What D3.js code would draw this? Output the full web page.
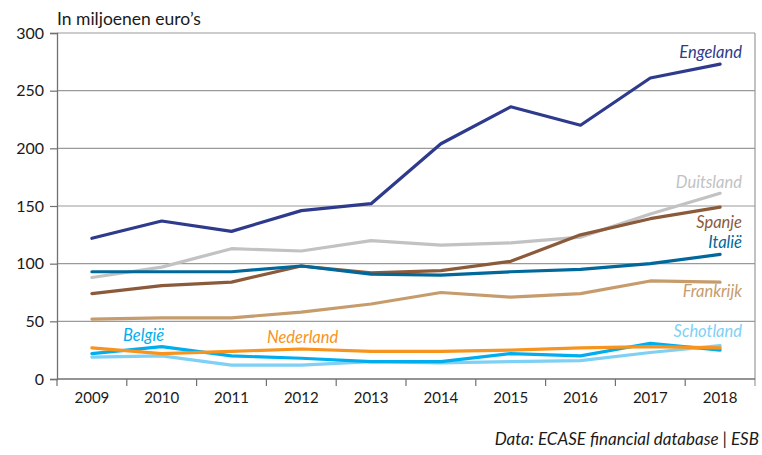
<!DOCTYPE html>
<html>
<head>
<meta charset="utf-8">
<script src="https://cdn.jsdelivr.net/npm/d3@7"></script>
<style>
  body { margin: 0; background: #fff; }
  svg { display: block; font-family: Lato, "Open Sans", sans-serif; }
</style>
</head>
<body>
<svg id="chart" width="762" height="455"></svg>
<script>
const years = ['2009', '2010', '2011', '2012', '2013', '2014', '2015', '2016', '2017', '2018'];
const yTicks = [0, 50, 100, 150, 200, 250, 300];

const engeland = [122, 137, 128, 146, 152, 204, 236, 220, 261, 273];
const duitsland = [88, 97, 113, 111, 120, 116, 118, 123, 143, 161];
const spanje = [74, 81, 84, 98, 92, 94, 102, 125, 139, 149];
const italie = [93, 93, 93, 98, 91, 90, 93, 95, 100, 108];
const frankrijk = [52, 53, 53, 58, 65, 75, 71, 74, 85, 84];
const belgie = [22, 28, 20, 18, 15, 15, 22, 20, 31, 25];
const nederland = [27, 22, 24, 26, 24, 24, 25, 27, 28, 27];
const schotland = [19, 20, 12, 12, 15, 14, 15, 16, 23, 29];

const series = [
  { name: 'Duitsland', values: duitsland, color: '#c2c2c2', lx: 742, ly: 188, anchor: 'end' },
  { name: 'Frankrijk', values: frankrijk, color: '#c69c6d', lx: 742, ly: 297, anchor: 'end' },
  { name: 'Spanje', values: spanje, color: '#8b5a3a', lx: 742, ly: 228, anchor: 'end' },
  { name: 'Italië', values: italie, color: '#00689a', lx: 742, ly: 248, anchor: 'end' },
  { name: 'Schotland', values: schotland, color: '#7fd0f5', lx: 742, ly: 337, anchor: 'end' },
  { name: 'België', values: belgie, color: '#00aeef', lx: 123, ly: 341, anchor: 'start' },
  { name: 'Nederland', values: nederland, color: '#f7941d', lx: 267, ly: 343, anchor: 'start' },
  { name: 'Engeland', values: engeland, color: '#2e3a8c', lx: 742, ly: 58, anchor: 'end' }
];

const svg = d3.select('#chart');
const plotLeft = 57, plotRight = 755, plotTop = 33, plotBottom = 379;

const x = d3.scaleBand().domain(years).range([plotLeft, plotRight]);
const y = d3.scaleLinear().domain([0, 300]).range([plotBottom, plotTop]);
const cx = d => x(d) + x.bandwidth() / 2;

// gridlines
svg.append('g')
  .selectAll('line')
  .data(yTicks.filter(t => t > 0))
  .join('line')
  .attr('x1', plotLeft).attr('x2', plotRight)
  .attr('y1', d => y(d)).attr('y2', d => y(d))
  .attr('stroke', '#9a9a9a').attr('stroke-width', 1.2);

// right border
svg.append('line')
  .attr('x1', plotRight).attr('x2', plotRight)
  .attr('y1', plotTop).attr('y2', plotBottom + 7)
  .attr('stroke', '#9a9a9a').attr('stroke-width', 1.2);

// y axis
const yAxis = svg.append('g')
  .attr('transform', `translate(${plotLeft},0)`)
  .call(d3.axisLeft(y).tickValues(yTicks).tickSize(7).tickPadding(6));
yAxis.select('.domain').attr('stroke', '#707070').attr('stroke-width', 1.3);
yAxis.selectAll('.tick line').attr('stroke', '#707070').attr('stroke-width', 1.2);
yAxis.selectAll('.tick text')
  .attr('fill', '#1a1a1a').style('font-size', '16px').style('font-family', 'Lato, sans-serif');

// x axis with ticks at band boundaries
const xAxis = svg.append('g')
  .attr('transform', `translate(0,${plotBottom})`);
xAxis.append('line')
  .attr('x1', plotLeft).attr('x2', plotRight)
  .attr('stroke', '#707070').attr('stroke-width', 1.3);
xAxis.selectAll('line.tk')
  .data(years)
  .join('line')
  .attr('class', 'tk')
  .attr('x1', d => x(d)).attr('x2', d => x(d))
  .attr('y1', 0).attr('y2', 7)
  .attr('stroke', '#707070').attr('stroke-width', 1.2);
xAxis.selectAll('text')
  .data(years)
  .join('text')
  .attr('x', d => cx(d))
  .attr('y', 24)
  .attr('text-anchor', 'middle')
  .attr('fill', '#1a1a1a')
  .style('font-size', '15px')
  .text(d => d);

// lines
const line = d3.line()
  .x((d, i) => cx(years[i]))
  .y(d => y(d));

svg.append('g')
  .selectAll('path')
  .data(series)
  .join('path')
  .attr('d', d => line(d.values))
  .attr('fill', 'none')
  .attr('stroke', d => d.color)
  .attr('stroke-width', 3.2)
  .attr('stroke-linejoin', 'round')
  .attr('stroke-linecap', 'round');

// series labels
svg.append('g')
  .selectAll('text')
  .data(series)
  .join('text')
  .attr('x', d => d.lx)
  .attr('y', d => d.ly)
  .attr('text-anchor', d => d.anchor)
  .attr('fill', d => d.color)
  .style('font-style', 'italic')
  .style('font-size', '16.5px')
  .text(d => d.name);

// title and source
svg.append('text')
  .attr('x', plotLeft).attr('y', 25)
  .attr('fill', '#1a1a1a')
  .style('font-size', '17.5px')
  .text('In miljoenen euro’s');

svg.append('text')
  .attr('x', 759).attr('y', 445)
  .attr('text-anchor', 'end')
  .attr('fill', '#1a1a1a')
  .style('font-style', 'italic')
  .style('font-size', '17px')
  .text('Data: ECASE financial database | ESB');
</script>
</body>
</html>
